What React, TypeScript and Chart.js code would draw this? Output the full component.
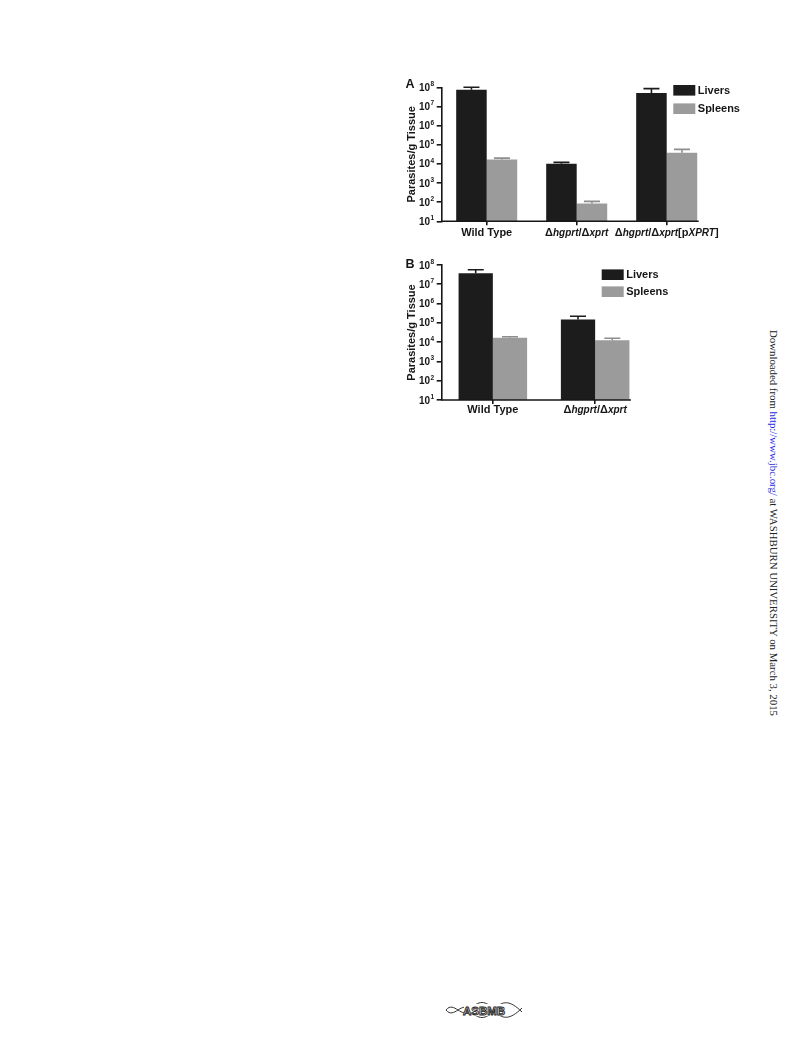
import React, { useEffect, useRef } from "react";
import { Chart, registerables } from "chart.js";

Chart.register(...registerables);

// ---- data -------------------------------------------------------------
// Category labels: text between underscores is set in italics.
const seriesNames = ["Livers", "Spleens"];
const seriesColors = ["#1c1c1c", "#9b9b9b"];
const errorColors = ["#1c1c1c", "#8e8e8e"];

const categoriesA = ["Wild Type", "Δ_hgprt_/Δ_xprt_", "Δ_hgprt_/Δ_xprt_[p_XPRT_]"];
const liversA = [7.5e7, 1.0e4, 5.0e7];
const liversErrA = [1.0e8, 1.2e4, 8.5e7];
const spleensA = [1.7e4, 85, 3.8e4];
const spleensErrA = [2.0e4, 110, 5.7e4];

const categoriesB = ["Wild Type", "Δ_hgprt_/Δ_xprt_"];
const liversB = [3.7e7, 1.5e5];
const liversErrB = [5.7e7, 2.2e5];
const spleensB = [1.7e4, 1.25e4];
const spleensErrB = [1.9e4, 1.6e4];

const yTickExponents = [1, 2, 3, 4, 5, 6, 7, 8];
const yTitle = "Parasites/g Tissue";

const FONT = '"Liberation Sans", Arial, Helvetica, sans-serif';
const INK = "#161616";

type PanelSpec = {
  letter: string;
  left: number;
  top: number;
  width: number;
  height: number;
  categories: string[];
  livers: number[];
  liversErr: number[];
  spleens: number[];
  spleensErr: number[];
  padding: { left: number; top: number; right: number; bottom: number };
  yWidth: number;
  xHeight: number;
  categoryPercentage: number;
  labelGap: number;
  legendX: number;
  legendY: number;
  legendGap: number;
  letterPos: [number, number];
};

function stripMarkers(label: string) {
  return label.replace(/_/g, "");
}

function parseRuns(label: string) {
  return label
    .split("_")
    .map((text, i) => ({ text, italic: i % 2 === 1 }))
    .filter((r) => r.text.length > 0);
}

// Draws a label made of upright and italic runs, centred on cx.
function drawRuns(ctx: CanvasRenderingContext2D, label: string, cx: number, cy: number) {
  const runs = parseRuns(label);
  const fonts = runs.map((r) =>
    r.italic ? `italic bold 10px ${FONT}` : `bold 11px ${FONT}`
  );
  const widths = runs.map((r, i) => {
    ctx.font = fonts[i];
    return ctx.measureText(r.text).width;
  });
  const total = widths.reduce((a, b) => a + b, 0);
  let x = cx - total / 2;
  ctx.textAlign = "left";
  ctx.textBaseline = "middle";
  runs.forEach((r, i) => {
    ctx.font = fonts[i];
    ctx.fillText(r.text, x, cy);
    x += widths[i];
  });
}

// Axis line, tick labels with exponents, category labels, error caps and legend.
function makeDecorPlugin(spec: PanelSpec) {
  return {
    id: "panelDecor",
    afterDraw(chart: any) {
      const ctx: CanvasRenderingContext2D = chart.ctx;
      const area = chart.chartArea;
      const xScale = chart.scales.x;
      const yScale = chart.scales.y;
      ctx.save();
      ctx.fillStyle = INK;
      ctx.strokeStyle = INK;

      // error bars (upper only)
      chart.data.datasets.forEach((ds: any, di: number) => {
        const meta = chart.getDatasetMeta(di);
        ctx.strokeStyle = errorColors[di];
        ctx.lineWidth = 1.6;
        meta.data.forEach((bar: any, i: number) => {
          const yTop = yScale.getPixelForValue(ds.errorTop[i]);
          const cap = 16;
          ctx.beginPath();
          ctx.moveTo(bar.x, bar.y);
          ctx.lineTo(bar.x, yTop);
          ctx.moveTo(bar.x - cap / 2, yTop);
          ctx.lineTo(bar.x + cap / 2, yTop);
          ctx.stroke();
        });
      });

      // x axis line, ending just past the last bar
      const lastMeta = chart.getDatasetMeta(chart.data.datasets.length - 1);
      const lastBar = lastMeta.data[lastMeta.data.length - 1];
      const xEnd = lastBar.x + lastBar.width / 2 + 1.5;
      ctx.strokeStyle = INK;
      ctx.lineWidth = 1.6;
      ctx.beginPath();
      ctx.moveTo(area.left - 0.8, area.bottom);
      ctx.lineTo(xEnd, area.bottom);
      ctx.stroke();

      // y tick labels as 10 with a raised exponent
      ctx.fillStyle = INK;
      ctx.textBaseline = "middle";
      ctx.textAlign = "left";
      yScale.ticks.forEach((t: any) => {
        const exp = String(Math.round(Math.log10(t.value)));
        const y = yScale.getPixelForValue(t.value);
        ctx.font = `bold 10px ${FONT}`;
        const wBase = ctx.measureText("10").width;
        ctx.font = `bold 6.5px ${FONT}`;
        const wExp = ctx.measureText(exp).width;
        const xRight = area.left - 7.5;
        const x0 = xRight - wBase - wExp - 0.5;
        ctx.font = `bold 10px ${FONT}`;
        ctx.fillText("10", x0, y + 0.8);
        ctx.font = `bold 6.5px ${FONT}`;
        ctx.fillText(exp, x0 + wBase + 0.5, y - 2.8);
      });

      // category labels
      spec.categories.forEach((label, i) => {
        const x = xScale.getPixelForValue(i);
        drawRuns(ctx, label, x, area.bottom + spec.labelGap);
      });

      // legend
      chart.data.datasets.forEach((ds: any, di: number) => {
        const cy = spec.legendY + di * spec.legendGap;
        ctx.fillStyle = ds.backgroundColor;
        ctx.fillRect(spec.legendX, cy - 5.3, 22, 10.6);
        ctx.fillStyle = INK;
        ctx.font = `bold 11px ${FONT}`;
        ctx.textAlign = "left";
        ctx.textBaseline = "middle";
        ctx.fillText(ds.label, spec.legendX + 24.5, cy + 0.5);
      });

      // panel letter
      ctx.font = `bold 12.5px ${FONT}`;
      ctx.textAlign = "center";
      ctx.textBaseline = "middle";
      ctx.fillText(spec.letter, spec.letterPos[0], spec.letterPos[1]);

      ctx.restore();
    },
  };
}

function Panel({ spec }: { spec: PanelSpec }) {
  const ref = useRef<HTMLCanvasElement | null>(null);

  useEffect(() => {
    if (!ref.current) return;
    const chart = new Chart(ref.current, {
      type: "bar",
      data: {
        labels: spec.categories.map(stripMarkers),
        datasets: [
          {
            label: seriesNames[0],
            data: spec.livers,
            errorTop: spec.liversErr,
            backgroundColor: seriesColors[0],
            borderWidth: 0,
            categoryPercentage: spec.categoryPercentage,
            barPercentage: 1,
          } as any,
          {
            label: seriesNames[1],
            data: spec.spleens,
            errorTop: spec.spleensErr,
            backgroundColor: seriesColors[1],
            borderWidth: 0,
            categoryPercentage: spec.categoryPercentage,
            barPercentage: 1,
          } as any,
        ],
      },
      options: {
        animation: false,
        responsive: false,
        maintainAspectRatio: false,
        layout: { padding: spec.padding },
        plugins: {
          legend: { display: false },
          tooltip: { enabled: false },
        },
        scales: {
          x: {
            type: "category",
            offset: true,
            grid: {
              display: true,
              drawOnChartArea: false,
              drawTicks: true,
              tickLength: 4,
              offset: false,
              color: INK,
              lineWidth: 1.6,
            },
            border: { display: false },
            ticks: { display: false },
            afterFit: (s: any) => {
              s.height = spec.xHeight;
            },
          },
          y: {
            type: "logarithmic",
            min: 10,
            max: 1e8,
            afterBuildTicks: (s: any) => {
              s.ticks = yTickExponents.map((e) => ({ value: Math.pow(10, e) }));
            },
            grid: {
              display: true,
              drawOnChartArea: false,
              drawTicks: true,
              tickLength: 5,
              color: INK,
              lineWidth: 1.6,
            },
            border: { display: true, color: INK, width: 1.6 },
            ticks: { display: false },
            title: {
              display: true,
              text: yTitle,
              color: INK,
              font: { family: FONT, size: 11, weight: "bold" },
              padding: { top: 5, bottom: 0 },
            },
            afterFit: (s: any) => {
              s.width = spec.yWidth;
            },
          },
        },
      } as any,
      plugins: [makeDecorPlugin(spec)],
    });
    return () => chart.destroy();
  }, [spec]);

  return (
    <canvas
      ref={ref}
      width={spec.width}
      height={spec.height}
      style={{
        position: "absolute",
        left: spec.left,
        top: spec.top,
        width: spec.width,
        height: spec.height,
      }}
    />
  );
}

const panelA: PanelSpec = {
  letter: "A",
  left: 395,
  top: 75,
  width: 355,
  height: 170,
  categories: categoriesA,
  livers: liversA,
  liversErr: liversErrA,
  spleens: spleensA,
  spleensErr: spleensErrA,
  padding: { left: 5, top: 12.3, right: 38.3, bottom: 3.7 },
  yWidth: 41.7,
  xHeight: 20,
  categoryPercentage: 0.678,
  labelGap: 12,
  legendX: 278.3,
  legendY: 15.3,
  legendGap: 18.4,
  letterPos: [15, 10],
};

const panelB: PanelSpec = {
  letter: "B",
  left: 395,
  top: 250,
  width: 355,
  height: 170,
  categories: categoriesB,
  livers: liversB,
  liversErr: liversErrB,
  spleens: spleensB,
  spleensErr: spleensErrB,
  padding: { left: 5, top: 15, right: 103.7, bottom: 4 },
  yWidth: 41.7,
  xHeight: 16,
  categoryPercentage: 0.67,
  labelGap: 10,
  legendX: 206.7,
  legendY: 24.7,
  legendGap: 17,
  letterPos: [15, 15],
};

function Logo() {
  return (
    <svg
      width={80}
      height={24}
      viewBox="0 0 80 24"
      style={{ position: "absolute", left: 444, top: 998 }}
    >
      <path d="M2 12 C 10 2, 18 22, 26 12 S 42 2, 50 12 S 66 22, 78 10" fill="none" stroke="#333" strokeWidth={1} />
      <path d="M2 12 C 10 22, 18 2, 26 12 S 42 22, 50 12 S 66 2, 78 14" fill="none" stroke="#333" strokeWidth={1} />
      <rect x={20} y={6} width={40} height={12} fill="#fff" />
      <text
        x={40}
        y={16.5}
        textAnchor="middle"
        fontFamily={FONT}
        fontWeight="bold"
        fontSize={11.5}
        fill="#fff"
        stroke="#222"
        strokeWidth={0.9}
      >
        ASBMB
      </text>
    </svg>
  );
}

export default function App() {
  return (
    <div
      style={{
        position: "absolute",
        left: 0,
        top: 0,
        width: 792,
        height: 1044,
        overflow: "hidden",
        background: "#fff",
      }}
    >
      <Panel spec={panelA} />
      <Panel spec={panelB} />
      <div
        style={{
          position: "absolute",
          left: 767,
          top: 330,
          writingMode: "vertical-rl",
          fontFamily: '"Liberation Serif", "Times New Roman", serif',
          fontSize: 10.8,
          color: "#222",
          whiteSpace: "nowrap",
          lineHeight: "13px",
        }}
      >
        Downloaded from <span style={{ color: "#2a2ae0" }}>http://www.jbc.org/</span> at WASHBURN UNIVERSITY on March 3, 2015
      </div>
      <Logo />
    </div>
  );
}
